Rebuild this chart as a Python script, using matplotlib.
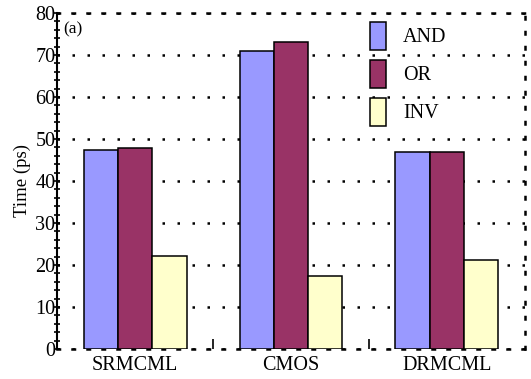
import numpy as np
import matplotlib.pyplot as plt
from matplotlib.ticker import MultipleLocator

plt.rcParams['font.family'] = ['Liberation Serif', 'DejaVu Serif']

# Gate delays per logic style
styles = ['SRMCML', 'CMOS', 'DRMCML']
gates = ['AND', 'OR', 'INV']
and_ps = [47.3, 71.0, 46.9]
or_ps = [47.8, 73.0, 46.9]
inv_ps = [22.1, 17.4, 21.1]
colors = ['#9999ff', '#993366', '#ffffcc']

dots = (0, (1, 5.0))

fig = plt.figure(figsize=(5.31, 3.79), dpi=100)
ax = fig.add_axes([0.108, 0.079, 0.88, 0.887])

x = np.arange(len(styles))
w = 0.22
for i, (vals, c, name) in enumerate(zip([and_ps, or_ps, inv_ps], colors, gates)):
    ax.bar(x + (i - 1) * w, vals, w, color=c, edgecolor='black',
           linewidth=1.1, label=name, zorder=3)

ax.set_xlim(-0.5, 2.5)
ax.set_ylim(0, 80)
ax.set_xticks(x)
ax.set_xticklabels(styles, fontsize=14.5)
ax.tick_params(axis='x', length=0, pad=5)
# small separators between groups on the base line
ax.set_xticks([0.5, 1.5], minor=True)
ax.tick_params(axis='x', which='minor', direction='in', length=7, width=1.2)

ax.yaxis.set_major_locator(MultipleLocator(10))
ax.yaxis.set_minor_locator(MultipleLocator(2))
ax.tick_params(axis='y', labelsize=14.5, direction='inout', length=5, width=1.2, pad=-1)
ax.tick_params(axis='y', which='minor', direction='inout', length=4, width=1.2)
ax.set_ylabel('Time (ps)', fontsize=13.5, labelpad=3)

ax.grid(axis='y', color='black', linestyle=dots, linewidth=1.8, zorder=0)
ax.set_axisbelow(True)

ax.spines['left'].set_linewidth(1.5)
for side in ['top', 'right', 'bottom']:
    ax.spines[side].set_linestyle(dots)
    ax.spines[side].set_linewidth(1.8)

ax.text(0.013, 0.975, '(a)', transform=ax.transAxes, fontsize=12.5, va='top')

ax.legend(loc='upper left', bbox_to_anchor=(0.63, 1.027), frameon=False,
          fontsize=14.5, handlelength=0.8, handleheight=1.75, labelspacing=0.5,
          handletextpad=0.85)

fig.savefig('out.png', dpi=100)
